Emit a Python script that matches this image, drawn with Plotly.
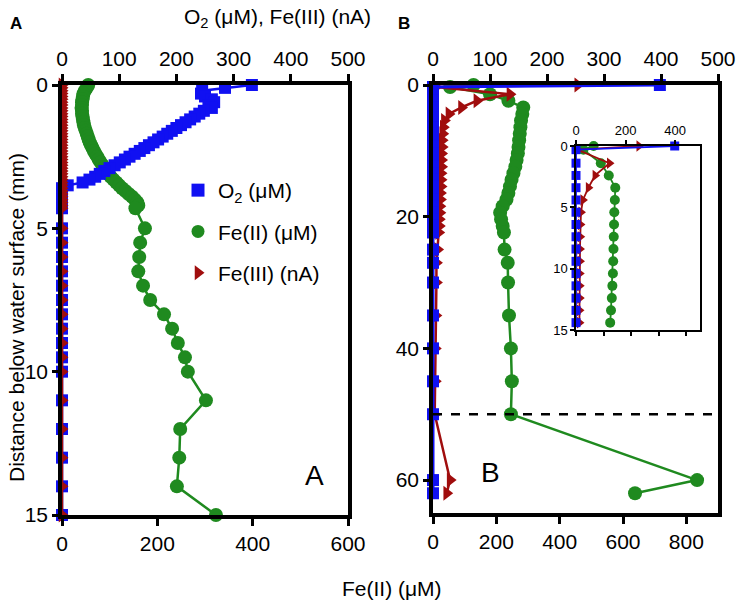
import plotly.graph_objects as go

W, H = 742, 607


def px(x):
    return x / W


def py(y):
    return 1 - y / H


# ---------------- Panel A data (depth in mm) ----------------
A_depth = [0.0, 0.1, 0.2, 0.3, 0.4, 0.5, 0.6, 0.7, 0.8, 0.9,
           1.0, 1.1, 1.2, 1.3, 1.4, 1.5, 1.6, 1.7, 1.8, 1.9,
           2.0, 2.1, 2.2, 2.3, 2.4, 2.5, 2.6, 2.7, 2.8, 2.9,
           3.0, 3.1, 3.2, 3.3, 3.4, 3.5, 3.6, 3.7, 3.8, 3.9,
           4.0, 4.1, 4.2, 4.3,
           5.0, 5.5, 6.0, 6.5, 7.0, 7.5, 8.0, 8.5, 9.0, 9.5, 10.0,
           11.0, 12.0, 13.0, 14.0, 15.0]
A_o2 = [332, 285, 245, 243, 250, 262, 266, 256, 262, 248,
        240, 232, 224, 216, 208, 200, 192, 184, 176, 168,
        160, 152, 144, 136, 127, 118, 110, 101, 92, 83,
        74, 66, 58, 48, 36, 10, 0, 0, 0, 0,
        0, 0, 0, 0,
        0, 0, 0, 0, 0, 0, 0, 0, 0, 0, 0,
        0, 0, 0, 0, 0]
A_fe2 = [55, 52, 48, 45, 44, 43, 42, 42, 41, 42,
         42, 43, 44, 45, 46, 48, 50, 52, 54, 56,
         58, 61, 64, 67, 70, 74, 77, 81, 85, 89,
         93, 97, 102, 108, 114, 120, 126, 133, 140, 147,
         153, 158, 160, 154,
         174, 164, 162, 160, 170, 185, 214, 231, 243, 258, 264,
         302, 248, 246, 241, 323]
A_fe3 = [0, 0, 0, 0, 0, 0, 0, 0, 0, 0,
         0, 0, 0, 0, 0, 0, 0, 0, 0, 0,
         0, 0, 0, 0, 0, 0, 0, 0, 0, 0,
         0, 0, 0, 0, 0, 0, 0, 0, 0, 0,
         0, 0, 0, 0,
         0, 0, 0, 0, 0, 0, 0, 0, 0, 0, 0,
         0, 0, 0, 0, 0]

# ---------------- Panel B data (depth in mm) ----------------
B_depth = [0.0, 0.3, 1.4, 2.4, 3.4, 4.4, 5.4, 6.4, 7.4, 8.4,
           9.4, 10.4, 11.4, 12.4, 13.4, 14.4, 15.4, 16.4, 17.4, 18.4,
           19.4, 20.4, 21.4, 22.4,
           25, 27, 30, 35, 40, 45, 50, 60, 62]
B_o2 = [398, 0, 0, 0, 0, 0, 0, 0, 0, 0,
        0, 0, 0, 0, 0, 0, 0, 0, 0, 0,
        0, 0, 0, 0,
        0, 0, 0, 0, 0, 0, 0, 0, 0]
B_fe2 = [128, 54, 180, 238, 285, 282, 278, 276, 274, 272,
         270, 268, 264, 260, 254, 248, 243, 238, 232, 220,
         212, 215, 220, 224,
         226, 236, 237, 240, 246, 249, 246, 834, 638]
B_fe3 = [254, 5, 135, 77, 50, 28, 20, 18, 17, 16,
         16, 15, 15, 15, 14, 14, 14, 13, 13, 12,
         12, 11, 11, 10,
         8, 6, 6, 5, 4, 4, 3, 30, 24]

INSET_MAX = 15

BLUE = "#1010f2"
GREEN = "#1f8a1f"
RED = "#a00d0d"
FONT = "Liberation Sans, Arial, sans-serif"

fig = go.Figure()


def add(x, y, xa, ya, color, symbol, size, lw):
    fig.add_trace(go.Scatter(
        x=x, y=y, xaxis=xa, yaxis=ya, mode="lines+markers",
        line=dict(color=color, width=lw),
        marker=dict(symbol=symbol, size=size, color=color, line=dict(width=0)),
        cliponaxis=False, showlegend=False, hoverinfo="skip"))


# Panel A
add(A_fe2, A_depth, "x", "y", GREEN, "circle", 14, 2.5)
add(A_o2, A_depth, "x2", "y", BLUE, "square", 12, 2.5)
add(A_fe3, A_depth, "x2", "y", RED, "triangle-right", 13, 2.5)

# Panel B
add(B_fe2, B_depth, "x3", "y2", GREEN, "circle", 14, 2.5)
add(B_fe3, B_depth, "x4", "y2", RED, "triangle-right", 13, 2.5)
add(B_o2, B_depth, "x4", "y2", BLUE, "square", 12, 3)

# Inset (upper 15 mm of panel B)
ins = [i for i, d in enumerate(B_depth) if d <= INSET_MAX]
add([B_fe2[i] for i in ins], [B_depth[i] for i in ins], "x5", "y3", GREEN, "circle", 10, 1.8)
add([B_fe3[i] for i in ins], [B_depth[i] for i in ins], "x6", "y3", RED, "triangle-right", 10, 1.8)
add([B_o2[i] for i in ins], [B_depth[i] for i in ins], "x6", "y3", BLUE, "square", 9, 1.8)

# Legend-only entries
legend_items = [("O<sub>2</sub> (μM)", BLUE, "square"),
                ("Fe(II) (μM)", GREEN, "circle"),
                ("Fe(III) (nA)", RED, "triangle-right")]
for i, (name, col, sym) in enumerate(legend_items):
    fig.add_trace(go.Scatter(
        x=[None], y=[None], xaxis="x2", yaxis="y", mode="markers",
        marker=dict(symbol=sym, size=13, color=col), name=name,
        legendgroup="g%d" % i, showlegend=True))

ax_main = dict(showgrid=False, zeroline=False, showline=True, linecolor="black",
               linewidth=3.5, ticks="outside", ticklen=7, tickwidth=3,
               tickcolor="black", automargin=False,
               tickfont=dict(size=21, color="black", family=FONT))
ax_ins = dict(showgrid=False, zeroline=False, showline=True, linecolor="black",
              linewidth=1.5, ticks="outside", ticklen=4, tickwidth=1.5,
              tickcolor="black", automargin=False,
              tickfont=dict(size=13, color="black", family=FONT))

fig.update_layout(
    template="none",
    width=W, height=H, autosize=False,
    margin=dict(l=0, r=0, t=0, b=0, pad=0),
    paper_bgcolor="white", plot_bgcolor="white",
    font=dict(family=FONT, color="black", size=20),
    xaxis=dict(ax_main, domain=[px(62), px(348)], range=[0, 600],
               tickvals=[0, 200, 400, 600], anchor="y", side="bottom"),
    xaxis2=dict(ax_main, overlaying="x", side="top", range=[0, 500],
                tickvals=[0, 100, 200, 300, 400, 500], anchor="y"),
    yaxis=dict(ax_main, domain=[py(515), py(85)], range=[15, 0],
               tickvals=[0, 5, 10, 15], anchor="x", mirror=True, ticklen=6),
    xaxis3=dict(ax_main, domain=[px(433), px(718)], range=[0, 900],
                tickvals=[0, 200, 400, 600, 800], anchor="y2", side="bottom"),
    xaxis4=dict(ax_main, overlaying="x3", side="top", range=[0, 500],
                tickvals=[0, 100, 200, 300, 400, 500], anchor="y2"),
    yaxis2=dict(ax_main, domain=[py(513), py(85)], range=[65, 0],
                tickvals=[0, 20, 40, 60], anchor="x3", mirror=True, ticklen=6),
    xaxis5=dict(ax_ins, domain=[px(576), px(700)], range=[0, 900],
                tickvals=[0, 200, 400, 600, 800], showticklabels=False,
                anchor="y3", side="bottom"),
    xaxis6=dict(ax_ins, overlaying="x5", side="top", range=[0, 500],
                tickvals=[0, 200, 400], anchor="y3"),
    yaxis3=dict(ax_ins, domain=[py(330), py(146)], range=[15, 0],
                tickvals=[0, 5, 10, 15], anchor="x5", mirror=True),
    legend=dict(x=px(178), y=py(170), xanchor="left", yanchor="top",
                bgcolor="rgba(0,0,0,0)", borderwidth=0,
                font=dict(size=21, family=FONT, color="black"),
                tracegroupgap=11, itemwidth=30),
    showlegend=True,
)

fig.add_shape(type="line", xref="x3 domain", x0=0, x1=1, yref="y2", y0=50, y1=50,
              line=dict(color="black", width=2.5, dash="dash"))

ann = [
    dict(text="<b>A</b>", x=px(16), y=py(24), font=dict(size=17)),
    dict(text="<b>B</b>", x=px(404), y=py(24), font=dict(size=17)),
    dict(text="O<sub>2</sub> (μM), Fe(III) (nA)", x=px(277), y=py(18), font=dict(size=21)),
    dict(text="Distance below water surface (mm)", x=px(16), y=py(318),
         textangle=-90, font=dict(size=21)),
    dict(text="Fe(II) (μM)", x=px(392), y=py(588), font=dict(size=21)),
    dict(text="A", x=px(314), y=py(475), font=dict(size=28)),
    dict(text="B", x=px(490), y=py(472), font=dict(size=28)),
]
for a in ann:
    fig.add_annotation(xref="paper", yref="paper", showarrow=False,
                       xanchor="center", yanchor="middle", **a)

fig.write_html("out.html", config={"displayModeBar": False},
               post_script="document.body.style.margin='0';document.body.style.overflow='hidden';")
